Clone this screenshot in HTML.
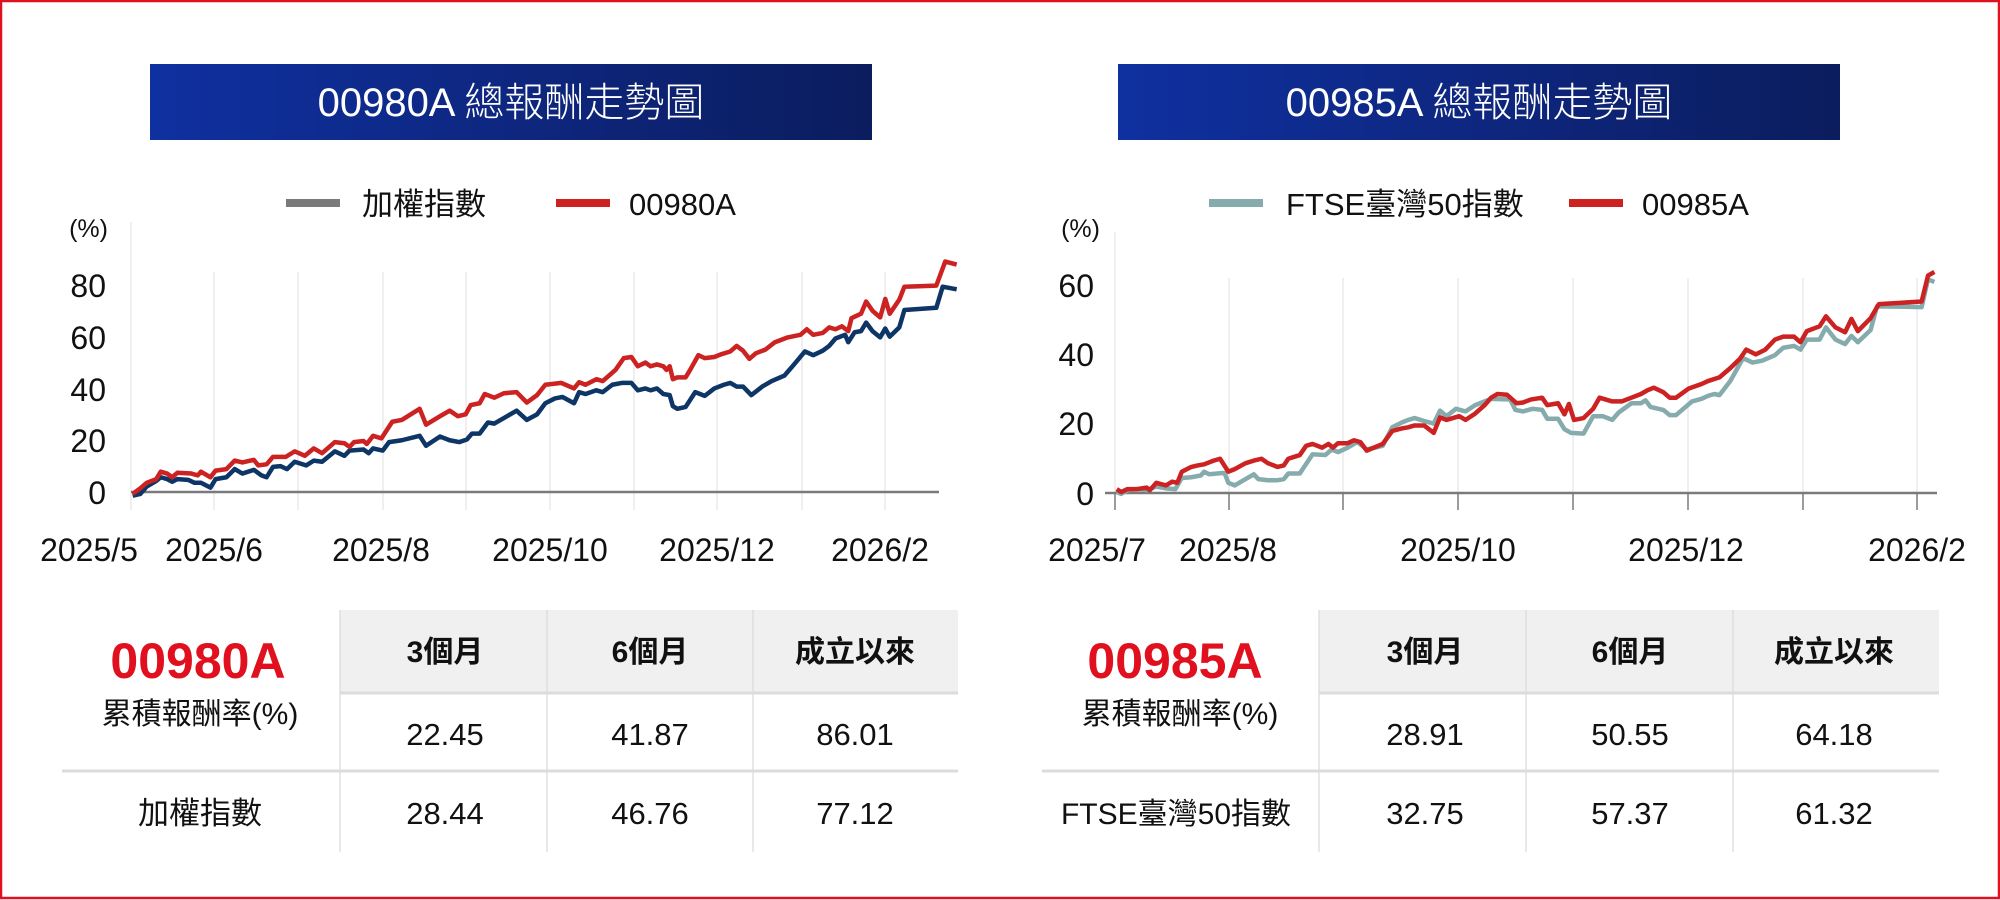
<!DOCTYPE html>
<html><head><meta charset="utf-8"><style>
html,body{margin:0;padding:0;background:#fff;}
svg{display:block;}
text{font-family:"Liberation Sans","Noto Sans CJK TC",sans-serif;}
</style></head><body>
<svg width="2000" height="900" viewBox="0 0 2000 900" xmlns="http://www.w3.org/2000/svg">
<defs>
<linearGradient id="g" x1="0" x2="1" y1="0" y2="0"><stop offset="0" stop-color="#0f30a0"/><stop offset="1" stop-color="#0c1d5e"/></linearGradient>
</defs>
<rect x="1" y="1" width="1998" height="897" fill="#fff" stroke="#e0101e" stroke-width="2.5"/>

<!-- titles -->
<rect x="150" y="64" width="722" height="76" fill="url(#g)"/>
<text x="511" y="116" fill="#fff" font-size="40" text-anchor="middle" font-weight="300">00980A 總報酬走勢圖</text>
<rect x="1118" y="64" width="722" height="76" fill="url(#g)"/>
<text x="1479" y="116" fill="#fff" font-size="40" text-anchor="middle" font-weight="300">00985A 總報酬走勢圖</text>

<!-- legends -->
<rect x="286" y="199" width="54" height="8" fill="#7a7a7a"/>
<text x="362" y="215" font-size="31" fill="#111">加權指數</text>
<rect x="556" y="199" width="54" height="8" fill="#cc2222"/>
<text x="629" y="215" font-size="31" fill="#111">00980A</text>
<rect x="1209" y="199" width="54" height="8" fill="#85abad"/>
<text x="1286" y="215" font-size="31" fill="#111">FTSE臺灣50指數</text>
<rect x="1569" y="199" width="54" height="8" fill="#cc2222"/>
<text x="1642" y="215" font-size="31" fill="#111">00985A</text>

<!-- left chart axes -->
<g stroke="#e6e6e6" stroke-width="1.3">
<line x1="131" y1="222" x2="131" y2="510"/>
<line x1="214" y1="272" x2="214" y2="510"/><line x1="298" y1="272" x2="298" y2="510"/>
<line x1="383" y1="272" x2="383" y2="510"/><line x1="466" y1="272" x2="466" y2="510"/>
<line x1="550" y1="272" x2="550" y2="510"/><line x1="634" y1="272" x2="634" y2="510"/>
<line x1="717" y1="272" x2="717" y2="510"/><line x1="802" y1="272" x2="802" y2="510"/>
<line x1="885" y1="272" x2="885" y2="510"/>
</g>
<line x1="131" y1="492" x2="939" y2="492" stroke="#7a7a7a" stroke-width="2.5"/>
<g font-size="32" fill="#111" text-anchor="end">
<text x="108" y="237" font-size="25">(%)</text>
<text x="106" y="297">80</text><text x="106" y="349">60</text><text x="106" y="401">40</text>
<text x="106" y="452">20</text><text x="106" y="504">0</text>
</g>
<g font-size="32" fill="#111" text-anchor="middle">
<text x="89" y="561">2025/5</text><text x="214" y="561">2025/6</text><text x="381" y="561">2025/8</text>
<text x="550" y="561">2025/10</text><text x="717" y="561">2025/12</text><text x="880" y="561">2026/2</text>
</g>
<g transform="scale(0.6378,0.36996)" fill="none" stroke-linejoin="round">
<polyline vector-effect="non-scaling-stroke" stroke="#0d3566" stroke-width="4.5" points="208,1340 220,1335 230,1315 245,1300 252,1290 262,1295 270,1302 278,1295 295,1297 305,1305 315,1305 330,1318 338,1295 355,1290 368,1268 380,1280 398,1270 410,1285 418,1290 428,1262 440,1260 450,1268 462,1248 480,1258 492,1245 505,1248 525,1220 540,1232 548,1218 570,1215 578,1225 585,1212 600,1218 610,1195 630,1190 658,1178 668,1205 690,1180 705,1190 720,1195 732,1188 740,1172 752,1172 765,1142 775,1145 790,1130 810,1110 826,1135 842,1120 855,1090 870,1077 882,1073 900,1090 908,1060 918,1065 935,1055 945,1060 960,1040 975,1035 990,1035 1000,1055 1012,1050 1020,1055 1030,1050 1040,1065 1050,1068 1055,1098 1062,1105 1075,1100 1090,1060 1105,1070 1120,1050 1135,1040 1145,1035 1155,1045 1165,1045 1178,1068 1195,1045 1210,1030 1230,1015 1245,985 1262,950 1275,960 1290,948 1300,935 1310,915 1325,905 1330,925 1340,898 1350,895 1358,872 1368,895 1380,912 1388,888 1395,910 1410,885 1418,838 1468,832 1478,775 1500,782"/>
<polyline vector-effect="non-scaling-stroke" stroke="#cc2222" stroke-width="4.5" points="208,1335 220,1320 230,1305 245,1295 252,1275 262,1280 270,1290 278,1278 300,1280 310,1285 315,1275 330,1290 338,1272 355,1268 368,1245 380,1250 398,1243 405,1258 418,1255 428,1235 448,1235 462,1220 478,1232 492,1212 505,1225 525,1195 540,1198 548,1208 555,1195 570,1192 575,1200 585,1178 598,1185 615,1140 630,1135 658,1105 668,1148 690,1125 705,1110 718,1125 730,1120 738,1095 752,1090 760,1065 775,1075 790,1063 810,1060 826,1088 842,1068 855,1040 880,1035 900,1050 908,1033 918,1040 935,1025 945,1030 965,1000 978,968 990,965 1000,990 1012,980 1020,990 1030,985 1040,990 1045,1000 1050,990 1055,1025 1062,1020 1075,1020 1082,1000 1095,960 1105,968 1120,965 1130,958 1145,950 1155,935 1165,948 1175,970 1185,955 1200,945 1215,925 1235,912 1255,905 1265,890 1275,905 1290,900 1300,885 1310,890 1320,882 1330,895 1335,860 1350,848 1358,815 1368,840 1380,858 1388,808 1395,848 1410,810 1418,775 1468,772 1482,707 1500,715"/>
</g>

<!-- right chart axes -->
<g stroke="#e6e6e6" stroke-width="1.3">
<line x1="1115" y1="232" x2="1115" y2="493"/>
<line x1="1229" y1="278" x2="1229" y2="493"/><line x1="1343" y1="278" x2="1343" y2="493"/>
<line x1="1458" y1="278" x2="1458" y2="493"/><line x1="1573" y1="278" x2="1573" y2="493"/>
<line x1="1688" y1="278" x2="1688" y2="493"/><line x1="1803" y1="278" x2="1803" y2="493"/>
<line x1="1917" y1="278" x2="1917" y2="493"/>
</g>
<g stroke="#7a7a7a" stroke-width="1.5">
<line x1="1115" y1="493" x2="1115" y2="510"/><line x1="1229" y1="493" x2="1229" y2="510"/>
<line x1="1343" y1="493" x2="1343" y2="510"/><line x1="1458" y1="493" x2="1458" y2="510"/>
<line x1="1573" y1="493" x2="1573" y2="510"/><line x1="1688" y1="493" x2="1688" y2="510"/>
<line x1="1803" y1="493" x2="1803" y2="510"/><line x1="1917" y1="493" x2="1917" y2="510"/>
</g>
<line x1="1105" y1="493" x2="1937" y2="493" stroke="#7a7a7a" stroke-width="2.5"/>
<g font-size="32" fill="#111" text-anchor="end">
<text x="1100" y="237" font-size="25">(%)</text>
<text x="1094" y="297">60</text><text x="1094" y="366">40</text>
<text x="1094" y="435">20</text><text x="1094" y="505">0</text>
</g>
<g font-size="32" fill="#111" text-anchor="middle">
<text x="1097" y="561">2025/7</text><text x="1228" y="561">2025/8</text><text x="1458" y="561">2025/10</text>
<text x="1686" y="561">2025/12</text><text x="1917" y="561">2026/2</text>
</g>
<g transform="translate(1000,0) scale(0.6378,0.36996)" fill="none" stroke-linejoin="round">
<polyline vector-effect="non-scaling-stroke" stroke="#85abad" stroke-width="4.5" points="183,1330 190,1335 200,1325 215,1322 230,1325 245,1315 260,1320 275,1322 285,1292 300,1290 315,1285 320,1275 328,1282 352,1278 358,1305 368,1312 380,1300 398,1282 405,1295 420,1298 435,1298 445,1295 452,1280 470,1280 490,1228 510,1230 520,1215 530,1222 545,1210 560,1195 568,1205 575,1215 600,1205 615,1155 630,1142 640,1135 650,1130 665,1138 680,1145 690,1110 700,1125 715,1105 730,1112 745,1095 760,1085 770,1078 800,1080 808,1108 820,1112 835,1105 850,1108 858,1132 875,1132 885,1160 895,1170 915,1172 930,1125 945,1125 960,1135 970,1115 990,1090 1005,1090 1012,1082 1020,1100 1040,1108 1050,1122 1060,1122 1085,1085 1100,1078 1110,1070 1120,1065 1128,1068 1145,1030 1165,968 1180,980 1195,975 1215,960 1228,940 1245,935 1255,945 1265,918 1285,918 1295,885 1310,918 1325,930 1335,908 1345,925 1365,892 1375,828 1445,830 1455,755 1465,762"/>
<polyline vector-effect="non-scaling-stroke" stroke="#cc2222" stroke-width="4.5" points="183,1322 190,1330 200,1322 215,1322 230,1318 235,1325 245,1305 260,1312 270,1302 278,1305 285,1275 300,1262 310,1258 320,1255 335,1245 345,1240 358,1275 368,1268 385,1252 398,1245 410,1240 420,1252 435,1262 445,1258 452,1240 470,1230 480,1205 490,1200 505,1210 515,1200 522,1210 530,1198 545,1198 555,1190 565,1195 575,1218 600,1200 615,1165 630,1158 640,1155 650,1150 665,1150 680,1170 690,1128 700,1135 720,1125 730,1135 745,1118 760,1095 770,1075 780,1065 795,1067 810,1090 820,1088 832,1080 850,1075 858,1095 875,1090 885,1120 892,1092 900,1135 915,1130 930,1105 940,1075 960,1085 975,1085 990,1075 1005,1065 1015,1055 1025,1048 1040,1060 1050,1075 1060,1075 1080,1050 1100,1038 1110,1030 1128,1020 1145,995 1160,970 1170,945 1185,958 1200,945 1215,918 1228,910 1245,910 1255,925 1265,895 1285,882 1295,855 1310,885 1325,898 1335,862 1345,895 1365,860 1378,822 1445,815 1455,745 1465,735"/>
</g>

<!-- left table -->
<rect x="340" y="610" width="618" height="83" fill="#f0f0f0"/>
<line x1="340" y1="693" x2="958" y2="693" stroke="#dcdcdc" stroke-width="3"/>
<line x1="62" y1="771" x2="958" y2="771" stroke="#dcdcdc" stroke-width="3"/>
<g stroke="#dcdcdc" stroke-width="1.3">
<line x1="340" y1="610" x2="340" y2="852"/><line x1="547" y1="610" x2="547" y2="852"/><line x1="753" y1="610" x2="753" y2="852"/>
</g>
<text x="198" y="678" font-size="50" font-weight="bold" fill="#e0101e" text-anchor="middle">00980A</text>
<text x="200" y="724" font-size="30" fill="#111" text-anchor="middle">累積報酬率(%)</text>
<text x="200" y="824" font-size="31" fill="#111" text-anchor="middle">加權指數</text>
<g font-size="30" font-weight="bold" fill="#111" text-anchor="middle">
<text x="445" y="662">3個月</text><text x="650" y="662">6個月</text><text x="855" y="662">成立以來</text>
</g>
<g font-size="31" fill="#111" text-anchor="middle">
<text x="445" y="745">22.45</text><text x="650" y="745">41.87</text><text x="855" y="745">86.01</text>
<text x="445" y="824">28.44</text><text x="650" y="824">46.76</text><text x="855" y="824">77.12</text>
</g>

<!-- right table -->
<rect x="1319" y="610" width="620" height="83" fill="#f0f0f0"/>
<line x1="1319" y1="693" x2="1939" y2="693" stroke="#dcdcdc" stroke-width="3"/>
<line x1="1042" y1="771" x2="1939" y2="771" stroke="#dcdcdc" stroke-width="3"/>
<g stroke="#dcdcdc" stroke-width="1.3">
<line x1="1319" y1="610" x2="1319" y2="852"/><line x1="1526" y1="610" x2="1526" y2="852"/><line x1="1733" y1="610" x2="1733" y2="852"/>
</g>
<text x="1175" y="678" font-size="50" font-weight="bold" fill="#e0101e" text-anchor="middle">00985A</text>
<text x="1180" y="724" font-size="30" fill="#111" text-anchor="middle">累積報酬率(%)</text>
<text x="1176" y="824" font-size="30" fill="#111" text-anchor="middle">FTSE臺灣50指數</text>
<g font-size="30" font-weight="bold" fill="#111" text-anchor="middle">
<text x="1425" y="662">3個月</text><text x="1630" y="662">6個月</text><text x="1834" y="662">成立以來</text>
</g>
<g font-size="31" fill="#111" text-anchor="middle">
<text x="1425" y="745">28.91</text><text x="1630" y="745">50.55</text><text x="1834" y="745">64.18</text>
<text x="1425" y="824">32.75</text><text x="1630" y="824">57.37</text><text x="1834" y="824">61.32</text>
</g>
</svg>
</body></html>
